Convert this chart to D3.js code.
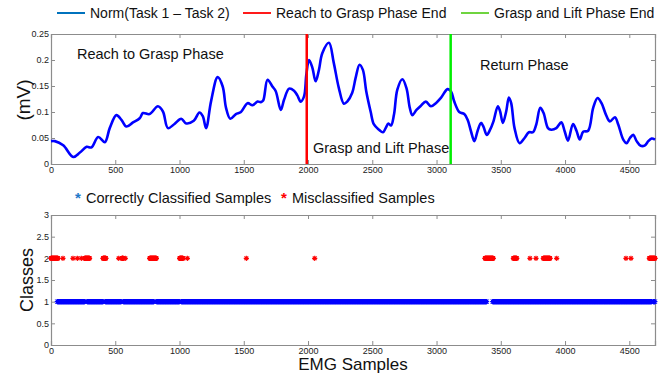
<!DOCTYPE html>
<html>
<head>
<meta charset="utf-8">
<script src="https://cdn.jsdelivr.net/npm/d3@7"></script>
<style>
  body { margin: 0; background: #fff; }
  svg { display: block; font-family: "Liberation Sans", Arial, sans-serif; }
</style>
</head>
<body>
<svg width="669" height="374"></svg>
<script>
// curve: sample index and mV
var normSamples = [0, 30, 95, 173, 225, 277, 315, 367, 419, 457, 509, 548, 587, 638, 690, 716, 767, 832, 871, 910,
  961, 1013, 1052, 1111, 1155, 1181, 1207, 1245, 1297, 1336, 1362, 1395, 1439, 1478, 1530, 1568, 1607, 1633, 1651, 1685,
  1723, 1749, 1788, 1814, 1853, 1891, 1917, 1943, 1969, 1987, 2008, 2034, 2059, 2085, 2111, 2163, 2200, 2240, 2279, 2305,
  2344, 2370, 2401, 2427, 2453, 2487, 2513, 2552, 2583, 2604, 2625, 2646, 2669, 2695, 2734, 2766, 2792, 2812, 2844, 2878,
  2917, 2956, 2995, 3034, 3086, 3112, 3138, 3177, 3216, 3242, 3268, 3294, 3320, 3346, 3365, 3391, 3417, 3443, 3477, 3495,
  3516, 3542, 3563, 3581, 3607, 3646, 3685, 3719, 3750, 3776, 3807, 3833, 3867, 3893, 3932, 3971, 3997, 4023, 4062, 4089,
  4115, 4141, 4180, 4219, 4253, 4284, 4318, 4349, 4388, 4414, 4453, 4479, 4505, 4531, 4557, 4589, 4622, 4648, 4674, 4700];
var normValues = [0.044, 0.044, 0.036, 0.0135, 0.022, 0.033, 0.032, 0.052, 0.042, 0.069, 0.094, 0.085, 0.072, 0.080, 0.088, 0.098, 0.096, 0.111, 0.101, 0.069,
  0.077, 0.087, 0.078, 0.083, 0.099, 0.092, 0.069, 0.120, 0.167, 0.149, 0.108, 0.087, 0.096, 0.100, 0.117, 0.113, 0.120, 0.119, 0.122, 0.162,
  0.149, 0.140, 0.104, 0.124, 0.145, 0.141, 0.132, 0.120, 0.130, 0.172, 0.200, 0.185, 0.159, 0.181, 0.213, 0.233, 0.195, 0.146, 0.116, 0.120,
  0.137, 0.165, 0.191, 0.181, 0.140, 0.101, 0.076, 0.066, 0.061, 0.069, 0.078, 0.074, 0.095, 0.143, 0.163, 0.146, 0.108, 0.094, 0.104, 0.112,
  0.120, 0.111, 0.117, 0.127, 0.144, 0.140, 0.120, 0.100, 0.096, 0.085, 0.063, 0.044, 0.064, 0.079, 0.072, 0.056, 0.066, 0.082, 0.111, 0.101,
  0.079, 0.101, 0.128, 0.117, 0.069, 0.040, 0.050, 0.061, 0.061, 0.076, 0.108, 0.098, 0.069, 0.066, 0.069, 0.080, 0.063, 0.045, 0.077, 0.064,
  0.047, 0.062, 0.064, 0.108, 0.127, 0.117, 0.095, 0.082, 0.090, 0.076, 0.047, 0.040, 0.050, 0.056, 0.044, 0.035, 0.036, 0.044, 0.049, 0.047];

var phaseEnds = [1990, 3110];
var xTicks = [0, 500, 1000, 1500, 2000, 2500, 3000, 3500, 4000, 4500];
var mvTicks = [0, 0.05, 0.1, 0.15, 0.2, 0.25];
var classTicks = [0, 0.5, 1, 1.5, 2, 2.5, 3];

// runs of samples [from, to] for each class result
var correctRuns = [[49, 262], [282, 405], [423, 547], [563, 801], [822, 1001], [1014, 3390], [3437, 4674], [4687, 4700]];
var wrongRuns = [[0, 55], [93, 93], [171, 171], [205, 205], [236, 236], [262, 301], [405, 428], [527, 527], [552, 562],
  [578, 578], [768, 820], [1001, 1027], [1061, 1061], [1520, 1520], [2052, 2052], [3377, 3442], [3598, 3624], [3727, 3727],
  [3774, 3774], [3831, 3883], [3935, 3935], [4474, 4474], [4513, 4513], [4656, 4700]];

var svg = d3.select("svg");
var left = 51, right = 655;

var xScale = d3.scaleLinear().domain([0, 4700]).range([left, right]);
var yTop = d3.scaleLinear().domain([0, 0.25]).range([164, 34]);
var yBot = d3.scaleLinear().domain([0, 3]).range([345, 215]);

function fmt(d) { return String(+d.toFixed(2)); }

// matlab style box with inward ticks
function drawAxes(y, yTicks) {
  var g = svg.append("g");
  g.append("g").attr("transform", "translate(0," + y.range()[0] + ")")
    .call(d3.axisBottom(xScale).tickValues(xTicks).tickSize(-4).tickPadding(3).tickFormat(fmt));
  g.append("g").attr("transform", "translate(0," + y.range()[1] + ")")
    .call(d3.axisTop(xScale).tickValues(xTicks).tickSize(-4).tickFormat(""));
  g.append("g").attr("transform", "translate(" + left + ",0)")
    .call(d3.axisLeft(y).tickValues(yTicks).tickSize(-4).tickPadding(2).tickFormat(fmt));
  g.append("g").attr("transform", "translate(" + right + ",0)")
    .call(d3.axisRight(y).tickValues(yTicks).tickSize(-4).tickFormat(""));
  g.selectAll(".domain").attr("stroke", "#8c8c8c").attr("stroke-width", 1.2);
  g.selectAll(".tick line").attr("stroke", "#8c8c8c");
  g.selectAll(".tick text").attr("fill", "#222").style("font-size", "9px").style("font-family", "Liberation Sans, Arial");
  return g;
}

drawAxes(yTop, mvTicks);
drawAxes(yBot, classTicks);

// norm curve
var pts = normSamples.map(function (s, i) { return { x: s, y: normValues[i] }; });
var line = d3.line()
  .x(function (d) { return xScale(d.x); })
  .y(function (d) { return yTop(d.y); })
  .curve(d3.curveCatmullRom.alpha(0.5));

svg.append("path")
  .datum(pts)
  .attr("fill", "none")
  .attr("stroke", "#0000ff")
  .attr("stroke-width", 2.6)
  .attr("d", line);

// phase end lines
var phaseColors = ["#ff0000", "#00ee00"];
svg.selectAll(".phase")
  .data(phaseEnds)
  .enter().append("line")
  .attr("x1", function (d) { return xScale(d); })
  .attr("x2", function (d) { return xScale(d); })
  .attr("y1", yTop.range()[1])
  .attr("y2", yTop.range()[0])
  .attr("stroke", function (d, i) { return phaseColors[i]; })
  .attr("stroke-width", 2.5);

// phase labels
var phaseLabels = [
  { t: "Reach to Grasp Phase", x: 77, y: 59 },
  { t: "Grasp and Lift Phase", x: 313, y: 153 },
  { t: "Return Phase", x: 480, y: 70 }
];
svg.selectAll(".plabel")
  .data(phaseLabels)
  .enter().append("text")
  .attr("x", function (d) { return d.x; })
  .attr("y", function (d) { return d.y; })
  .style("font-size", "14.5px")
  .attr("fill", "#111")
  .text(function (d) { return d.t; });

// top legend
var legend = [
  { t: "Norm(Task 1 \u2013 Task 2)", c: "#0072bd", x: 57 },
  { t: "Reach to Grasp Phase End", c: "#ff1a1a", x: 243 },
  { t: "Grasp and Lift Phase End", c: "#6fd43f", x: 461 }
];
var lg = svg.selectAll(".lg").data(legend).enter().append("g");
lg.append("line")
  .attr("x1", function (d) { return d.x; })
  .attr("x2", function (d) { return d.x + 28; })
  .attr("y1", 13).attr("y2", 13)
  .attr("stroke", function (d) { return d.c; })
  .attr("stroke-width", 2);
lg.append("text")
  .attr("x", function (d) { return d.x + 33; })
  .attr("y", 18)
  .style("font-size", "14px")
  .attr("fill", "#111")
  .text(function (d) { return d.t; });

// class markers (matlab '*')
function star(r) {
  var a = r * 0.72;
  return "M0," + -r + "V" + r + "M" + -r + ",0H" + r +
    "M" + -a + "," + -a + "L" + a + "," + a + "M" + -a + "," + a + "L" + a + "," + -a;
}

function expand(runs, step) {
  var out = [];
  runs.forEach(function (r) {
    for (var s = r[0]; s <= r[1]; s += step) out.push(s);
  });
  return out;
}

svg.append("g").selectAll("path")
  .data(expand(correctRuns, 3))
  .enter().append("path")
  .attr("d", star(2.6))
  .attr("transform", function (d) { return "translate(" + xScale(d) + "," + yBot(1) + ")"; })
  .attr("stroke", "#0000ff")
  .attr("stroke-width", 1);

svg.append("g").selectAll("path")
  .data(expand(wrongRuns, 2))
  .enter().append("path")
  .attr("d", star(2.6))
  .attr("transform", function (d) { return "translate(" + xScale(d) + "," + yBot(2) + ")"; })
  .attr("stroke", "#ff0000")
  .attr("stroke-width", 1.1);

// bottom legend
var lg2 = [
  { t: "Correctly Classified Samples", c: "#1f78c8", x: 78 },
  { t: "Misclassified Samples", c: "#ff0000", x: 284 }
];
var l2 = svg.selectAll(".lg2").data(lg2).enter().append("g");
l2.append("text")
  .attr("x", function (d) { return d.x; })
  .attr("y", 203)
  .attr("text-anchor", "middle")
  .style("font-size", "15px")
  .style("font-weight", "bold")
  .attr("fill", function (d) { return d.c; })
  .text("*");
l2.append("text")
  .attr("x", function (d) { return d.x + 8; })
  .attr("y", 203)
  .style("font-size", "14.5px")
  .attr("fill", "#111")
  .text(function (d) { return d.t; });

// axis titles
svg.append("text")
  .attr("transform", "translate(30,100) rotate(-90)")
  .attr("text-anchor", "middle")
  .style("font-size", "19px")
  .attr("fill", "#111")
  .text("(mV)");
svg.append("text")
  .attr("transform", "translate(33,280) rotate(-90)")
  .attr("text-anchor", "middle")
  .style("font-size", "18px")
  .attr("fill", "#111")
  .text("Classes");
svg.append("text")
  .attr("x", 353)
  .attr("y", 370)
  .attr("text-anchor", "middle")
  .style("font-size", "17px")
  .attr("fill", "#111")
  .text("EMG Samples");
</script>
</body>
</html>
